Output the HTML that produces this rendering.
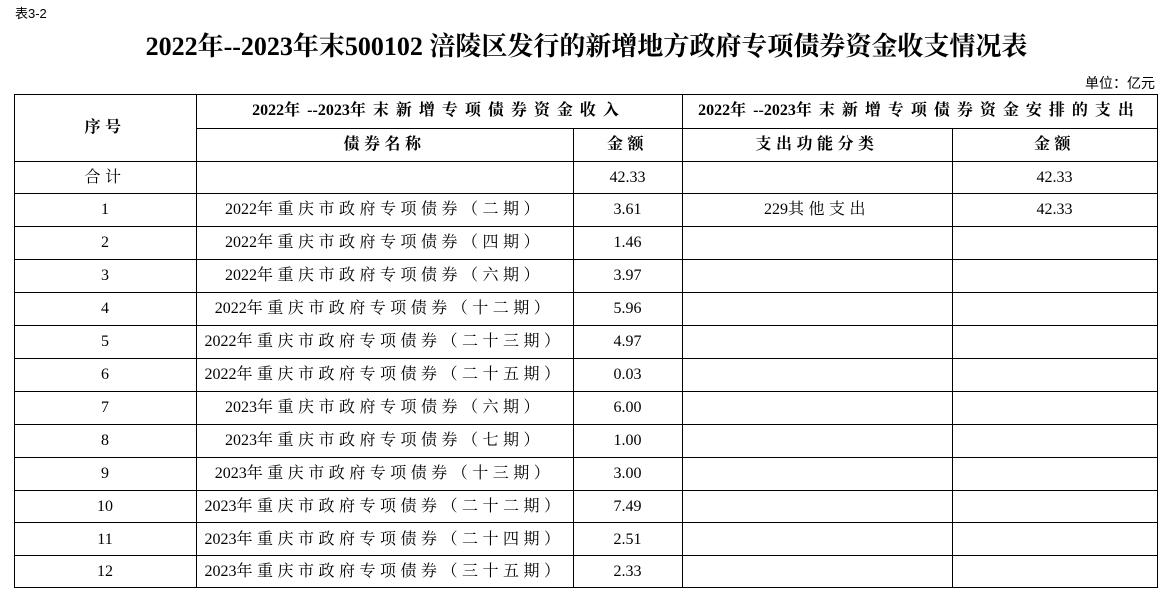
<!DOCTYPE html>
<html><head><meta charset="utf-8"><style>
body{margin:0;width:1173px;height:597px;background:#fff;position:relative;overflow:hidden;font-family:"Liberation Serif","Noto Serif CJK SC",serif;color:#000}
.h{position:absolute;height:1.3px;background:#000}
.v{position:absolute;width:1.3px;background:#000}
.t{position:absolute;text-align:center;white-space:nowrap;font-size:16px;line-height:20px}
.b{font-weight:bold}
.s{letter-spacing:4.5px}
.hs{letter-spacing:7px}
.d{letter-spacing:0}
</style></head><body>
<div style="position:absolute;left:15px;top:3px;font-size:13px;font-family:'Liberation Sans','Noto Sans CJK SC',sans-serif">表3-2</div>
<div style="position:absolute;left:0;width:1173px;top:30px;text-align:center;font-size:26px;font-weight:bold;line-height:34px">2022年--2023年末500102 涪陵区发行的新增地方政府专项债券资金收支情况表</div>
<div style="position:absolute;right:18px;top:73px;font-size:14px;font-family:'Liberation Sans','Noto Sans CJK SC',sans-serif">单位：亿元</div>

<div class="h" style="left:14px;width:1144px;top:94px"></div>
<div class="h" style="left:196px;width:962px;top:128px"></div>
<div class="h" style="left:14px;width:1144px;top:161px"></div>
<div class="h" style="left:14px;width:1144px;top:193px"></div>
<div class="h" style="left:14px;width:1144px;top:226px"></div>
<div class="h" style="left:14px;width:1144px;top:259px"></div>
<div class="h" style="left:14px;width:1144px;top:292px"></div>
<div class="h" style="left:14px;width:1144px;top:325px"></div>
<div class="h" style="left:14px;width:1144px;top:358px"></div>
<div class="h" style="left:14px;width:1144px;top:391px"></div>
<div class="h" style="left:14px;width:1144px;top:424px"></div>
<div class="h" style="left:14px;width:1144px;top:457px"></div>
<div class="h" style="left:14px;width:1144px;top:490px"></div>
<div class="h" style="left:14px;width:1144px;top:522px"></div>
<div class="h" style="left:14px;width:1144px;top:555px"></div>
<div class="h" style="left:14px;width:1144px;top:587px"></div>
<div class="v" style="left:14px;top:94px;height:494px"></div>
<div class="v" style="left:196px;top:94px;height:494px"></div>
<div class="v" style="left:573px;top:128px;height:460px"></div>
<div class="v" style="left:682px;top:94px;height:494px"></div>
<div class="v" style="left:952px;top:128px;height:460px"></div>
<div class="v" style="left:1157px;top:94px;height:494px"></div>

<div class="t b s" style="left:14px;width:182px;top:118px">序号</div>
<div class="t b hs" style="left:196px;width:486px;top:101px"><span class="d">2022</span>年<span class="d">--2023</span>年末新增专项债券资金收入</div>
<div class="t b hs" style="left:682px;width:475px;top:101px"><span class="d">2022</span>年<span class="d">--2023</span>年末新增专项债券资金安排的支出</div>
<div class="t b s" style="left:196px;width:377px;top:135px">债券名称</div>
<div class="t b s" style="left:573px;width:109px;top:135px">金额</div>
<div class="t b s" style="left:682px;width:270px;top:135px">支出功能分类</div>
<div class="t b s" style="left:952px;width:205px;top:135px">金额</div>

<div class="t s" style="left:14px;width:182px;top:168px">合计</div>
<div class="t" style="left:573px;width:109px;top:168px">42.33</div>
<div class="t" style="left:952px;width:205px;top:168px">42.33</div>
<div class="t s" style="left:682px;width:270px;top:200px"><span class="d">229</span>其他支出</div>
<div class="t" style="left:952px;width:205px;top:200px">42.33</div>

<div class="t" style="left:14px;width:182px;top:200px">1</div><div class="t s" style="left:196px;width:377px;top:200px"><span class="d">2022</span>年重庆市政府专项债券（二期）</div><div class="t" style="left:573px;width:109px;top:200px">3.61</div>
<div class="t" style="left:14px;width:182px;top:233px">2</div><div class="t s" style="left:196px;width:377px;top:233px"><span class="d">2022</span>年重庆市政府专项债券（四期）</div><div class="t" style="left:573px;width:109px;top:233px">1.46</div>
<div class="t" style="left:14px;width:182px;top:266px">3</div><div class="t s" style="left:196px;width:377px;top:266px"><span class="d">2022</span>年重庆市政府专项债券（六期）</div><div class="t" style="left:573px;width:109px;top:266px">3.97</div>
<div class="t" style="left:14px;width:182px;top:299px">4</div><div class="t s" style="left:196px;width:377px;top:299px"><span class="d">2022</span>年重庆市政府专项债券（十二期）</div><div class="t" style="left:573px;width:109px;top:299px">5.96</div>
<div class="t" style="left:14px;width:182px;top:332px">5</div><div class="t s" style="left:196px;width:377px;top:332px"><span class="d">2022</span>年重庆市政府专项债券（二十三期）</div><div class="t" style="left:573px;width:109px;top:332px">4.97</div>
<div class="t" style="left:14px;width:182px;top:365px">6</div><div class="t s" style="left:196px;width:377px;top:365px"><span class="d">2022</span>年重庆市政府专项债券（二十五期）</div><div class="t" style="left:573px;width:109px;top:365px">0.03</div>
<div class="t" style="left:14px;width:182px;top:398px">7</div><div class="t s" style="left:196px;width:377px;top:398px"><span class="d">2023</span>年重庆市政府专项债券（六期）</div><div class="t" style="left:573px;width:109px;top:398px">6.00</div>
<div class="t" style="left:14px;width:182px;top:431px">8</div><div class="t s" style="left:196px;width:377px;top:431px"><span class="d">2023</span>年重庆市政府专项债券（七期）</div><div class="t" style="left:573px;width:109px;top:431px">1.00</div>
<div class="t" style="left:14px;width:182px;top:464px">9</div><div class="t s" style="left:196px;width:377px;top:464px"><span class="d">2023</span>年重庆市政府专项债券（十三期）</div><div class="t" style="left:573px;width:109px;top:464px">3.00</div>
<div class="t" style="left:14px;width:182px;top:497px">10</div><div class="t s" style="left:196px;width:377px;top:497px"><span class="d">2023</span>年重庆市政府专项债券（二十二期）</div><div class="t" style="left:573px;width:109px;top:497px">7.49</div>
<div class="t" style="left:14px;width:182px;top:530px">11</div><div class="t s" style="left:196px;width:377px;top:530px"><span class="d">2023</span>年重庆市政府专项债券（二十四期）</div><div class="t" style="left:573px;width:109px;top:530px">2.51</div>
<div class="t" style="left:14px;width:182px;top:562px">12</div><div class="t s" style="left:196px;width:377px;top:562px"><span class="d">2023</span>年重庆市政府专项债券（三十五期）</div><div class="t" style="left:573px;width:109px;top:562px">2.33</div>
</body></html>
